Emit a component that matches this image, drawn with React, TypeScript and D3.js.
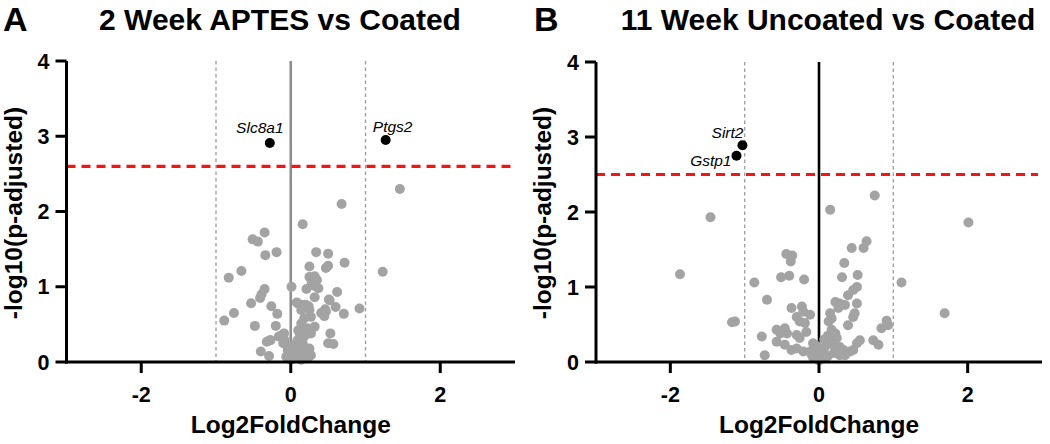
import React from "react";
import * as d3 from "d3";

// ---------- DATA ----------
const panelTitles = ["2 Week APTES vs Coated", "11 Week Uncoated vs Coated"];
const panelLetters = ["A", "B"];
const xTicks = [-2, 0, 2];
const yTicks = [0, 1, 2, 3, 4];
const thresholds = [2.6, 2.5];

// Panel A – non-significant genes [log2FC, -log10(padj)]
const aGrayX = [1.46, 0.68, 0.16, -0.35, -0.51, -0.44, -0.34, -0.19, 0.34, 0.5, 0.72, 1.23, 0.25, 0.47, 0.5, -0.66, -0.83, 0.25, 0.32, 0.35, 0.28, 0.32, 0.37, 0.21, 0.01, -0.35, -0.39, -0.41, -0.53, 0.62, 0.32, 0.51, 0.08, 0.14, 0.24, 0.6, 0.46, 0.41, 0.45, 0.71, 0.92, -0.26, -0.18, -0.76, -0.89, -0.48, -0.2, 0.53, 0.5, 0.57, -0.12, -0.28, -0.32, -0.4, -0.29, -0.27, -0.11, -0.08, -0.06, -0.04, -0.02, -0.06, 0.0, 0.09, 0.14, 0.2, 0.25, 0.27, 0.18, 0.14, 0.16, 0.12, 0.18, 0.09, 0.16, 0.2, 0.12, 0.18, 0.07, 0.14, 0.23, 0.41, 0.47, 0.52, 0.27, 0.32, 0.25, 0.27, 0.05, 0.03, -0.16, -0.09, -0.1, 0.22, 0.1, 0.02, -0.03, 0.04];
const aGrayY = [2.3, 2.1, 1.83, 1.72, 1.63, 1.6, 1.42, 1.46, 1.46, 1.44, 1.32, 1.2, 1.27, 1.25, 1.28, 1.21, 1.12, 1.13, 1.14, 1.09, 1.05, 1.01, 0.98, 0.97, 1.0, 0.97, 0.9, 0.85, 0.78, 0.93, 0.86, 0.83, 0.79, 0.76, 0.74, 0.73, 0.7, 0.65, 0.61, 0.64, 0.71, 0.74, 0.64, 0.65, 0.55, 0.48, 0.48, 0.38, 0.25, 0.24, 0.34, 0.29, 0.27, 0.14, 0.08, 0.29, 0.36, 0.29, 0.23, 0.16, 0.09, 0.07, 0.03, 0.78, 0.69, 0.76, 0.69, 0.6, 0.58, 0.51, 0.45, 0.38, 0.34, 0.29, 0.25, 0.18, 0.14, 0.09, 0.07, 0.03, 0.05, 0.65, 0.67, 0.82, 0.38, 0.47, 0.18, 0.09, 0.2, 0.14, 0.34, 0.38, 0.25, 0.45, 0.42, 0.22, 0.12, 0.06];
// Panel A – significant genes
const aSigGenes = ["Slc8a1", "Ptgs2"];
const aSigX = [-0.28, 1.27];
const aSigY = [2.91, 2.95];

// Panel B – non-significant genes
const bGrayX = [0.75, 0.15, -1.46, 2.01, 0.64, 0.6, 0.44, -0.44, -0.36, -0.38, 0.34, -1.87, -0.51, -0.4, -0.2, 0.31, 0.52, 1.11, -0.87, 0.51, 0.46, 0.39, -0.7, 0.22, 0.28, 0.35, 0.51, -0.23, -0.37, 0.26, 1.69, -0.21, -0.12, 0.15, 0.17, 0.13, 0.48, 0.46, -1.13, -1.17, -0.3, -0.26, -0.19, 0.39, 0.91, 0.93, 0.84, -0.57, -0.46, -0.43, -0.52, -0.3, -0.26, -0.17, -0.77, -0.57, -0.46, -0.37, -0.3, -0.21, -0.12, -0.08, -0.03, -0.73, 0.17, 0.22, 0.24, 0.15, 0.19, 0.28, 0.55, 0.51, 0.33, 0.42, 0.46, 0.28, 0.35, 0.08, 0.1, 0.04, 0.73, 0.8, -0.05, -0.02, 0.0, 0.03, 0.06, 0.12, 0.02, -0.08, 0.12, 0.2, -0.04, 0.1, 0.07, -0.1];
const bGrayY = [2.22, 2.03, 1.93, 1.86, 1.61, 1.52, 1.52, 1.44, 1.42, 1.34, 1.32, 1.17, 1.13, 1.15, 1.1, 1.13, 1.16, 1.06, 1.06, 1.0, 0.96, 0.89, 0.83, 0.8, 0.78, 0.76, 0.78, 0.74, 0.72, 0.72, 0.65, 0.67, 0.63, 0.65, 0.58, 0.54, 0.65, 0.6, 0.54, 0.53, 0.6, 0.54, 0.52, 0.49, 0.55, 0.49, 0.45, 0.43, 0.45, 0.38, 0.38, 0.36, 0.32, 0.4, 0.34, 0.27, 0.23, 0.16, 0.18, 0.14, 0.14, 0.25, 0.18, 0.09, 0.43, 0.38, 0.32, 0.29, 0.23, 0.2, 0.29, 0.25, 0.16, 0.14, 0.16, 0.09, 0.09, 0.2, 0.07, 0.05, 0.29, 0.23, 0.1, 0.05, 0.02, 0.06, 0.12, 0.35, 0.15, 0.06, 0.08, 0.12, 0.22, 0.28, 0.3, 0.1];
// Panel B – significant genes
const bSigGenes = ["Sirt2", "Gstp1"];
const bSigX = [-1.03, -1.11];
const bSigY = [2.89, 2.75];

// ---------- LAYOUT ----------
const W = 1050;
const H = 444;
const FONT = "'Liberation Sans', Arial, Helvetica, sans-serif";

type PanelCfg = {
  left: number;
  right: number;
  top: number;
  bottom: number;
  gx: number[];
  gy: number[];
  sx: number[];
  sy: number[];
  genes: string[];
  thr: number;
  title: string;
  letter: string;
  letterX: number;
  titleX: number;
  yLabelX: number;
  zeroColor: string;
  labelPos: { dx: number; dy: number; anchor: string }[];
};

const panels: PanelCfg[] = [
  {
    left: 66.5, right: 515, top: 61, bottom: 362,
    gx: aGrayX, gy: aGrayY, sx: aSigX, sy: aSigY, genes: aSigGenes,
    thr: thresholds[0], title: panelTitles[0], letter: panelLetters[0],
    letterX: 3, titleX: 280, yLabelX: 22, zeroColor: "#8e8e8e",
    labelPos: [
      { dx: -10, dy: -10, anchor: "middle" },
      { dx: 7, dy: -8, anchor: "middle" },
    ],
  },
  {
    left: 596, right: 1042, top: 62, bottom: 362,
    gx: bGrayX, gy: bGrayY, sx: bSigX, sy: bSigY, genes: bSigGenes,
    thr: thresholds[1], title: panelTitles[1], letter: panelLetters[1],
    letterX: 534, titleX: 828, yLabelX: 551, zeroColor: "#000",
    labelPos: [
      { dx: 1, dy: -7, anchor: "end" },
      { dx: -5, dy: 10, anchor: "end" },
    ],
  },
];

function Panel({ p }: { p: PanelCfg }) {
  const x = d3.scaleLinear().domain([-3, 3]).range([p.left, p.right]);
  const y = d3.scaleLinear().domain([0, 4]).range([p.bottom, p.top]);
  const cx = (p.left + p.right) / 2;
  return (
    <g>
      <text x={p.letterX} y={31} fontSize={34} fontWeight="bold" fontFamily={FONT}>
        {p.letter}
      </text>
      <text x={p.titleX} y={30} fontSize={30} fontWeight="bold" fontFamily={FONT} textAnchor="middle">
        {p.title}
      </text>

      {[-1, 1].map((v) => (
        <line key={v} x1={x(v)} x2={x(v)} y1={y(4)} y2={y(0)} stroke="#a0a0a0" strokeWidth={1.4} strokeDasharray="3.5,3" />
      ))}
      <line x1={x(0)} x2={x(0)} y1={y(4)} y2={y(0)} stroke={p.zeroColor} strokeWidth={2.6} />

      {p.gx.map((v, i) => (
        <circle key={i} cx={x(v)} cy={y(p.gy[i])} r={5} fill="#a3a3a3" />
      ))}

      <line x1={p.left} x2={p.right - 4} y1={y(p.thr)} y2={y(p.thr)} stroke="#f51414" strokeWidth={3.2} strokeDasharray="9,6" />

      {p.sx.map((v, i) => (
        <g key={i}>
          <circle cx={x(v)} cy={y(p.sy[i])} r={5} fill="#000" />
          <text
            x={x(v) + p.labelPos[i].dx}
            y={y(p.sy[i]) + p.labelPos[i].dy}
            fontSize={15.5}
            fontStyle="italic"
            fontFamily={FONT}
            textAnchor={p.labelPos[i].anchor}
          >
            {p.genes[i]}
          </text>
        </g>
      ))}

      <line x1={p.left} x2={p.left} y1={p.top} y2={p.bottom + 1.5} stroke="#000" strokeWidth={3} />
      <line x1={p.left - 1.5} x2={p.right} y1={p.bottom} y2={p.bottom} stroke="#000" strokeWidth={3} />
      {yTicks.map((t) => (
        <g key={t}>
          <line x1={p.left - 11} x2={p.left} y1={y(t)} y2={y(t)} stroke="#000" strokeWidth={3} />
          <text x={p.left - 17} y={y(t)} dy="0.36em" fontSize={21.5} fontWeight="bold" fontFamily={FONT} textAnchor="end">
            {t}
          </text>
        </g>
      ))}
      {xTicks.map((t) => (
        <g key={t}>
          <line x1={x(t)} x2={x(t)} y1={p.bottom} y2={p.bottom + 11} stroke="#000" strokeWidth={3} />
          <text x={x(t)} y={401.5} fontSize={21.5} fontWeight="bold" fontFamily={FONT} textAnchor="middle">
            {t}
          </text>
        </g>
      ))}

      <text x={cx} y={433} fontSize={24.5} fontWeight="bold" fontFamily={FONT} textAnchor="middle">
        Log2FoldChange
      </text>
      <text
        transform={`translate(${p.yLabelX},213) rotate(-90)`}
        fontSize={24.5}
        fontWeight="bold"
        fontFamily={FONT}
        textAnchor="middle"
      >
        -log10(p-adjusted)
      </text>
    </g>
  );
}

export default function App() {
  return (
    <div style={{ position: "fixed", left: 0, top: 0, width: W, height: H, background: "#fff" }}>
      <svg width={W} height={H} viewBox={`0 0 ${W} ${H}`}>
        <rect width={W} height={H} fill="#fff" />
        {panels.map((p, i) => (
          <Panel key={i} p={p} />
        ))}
      </svg>
    </div>
  );
}
